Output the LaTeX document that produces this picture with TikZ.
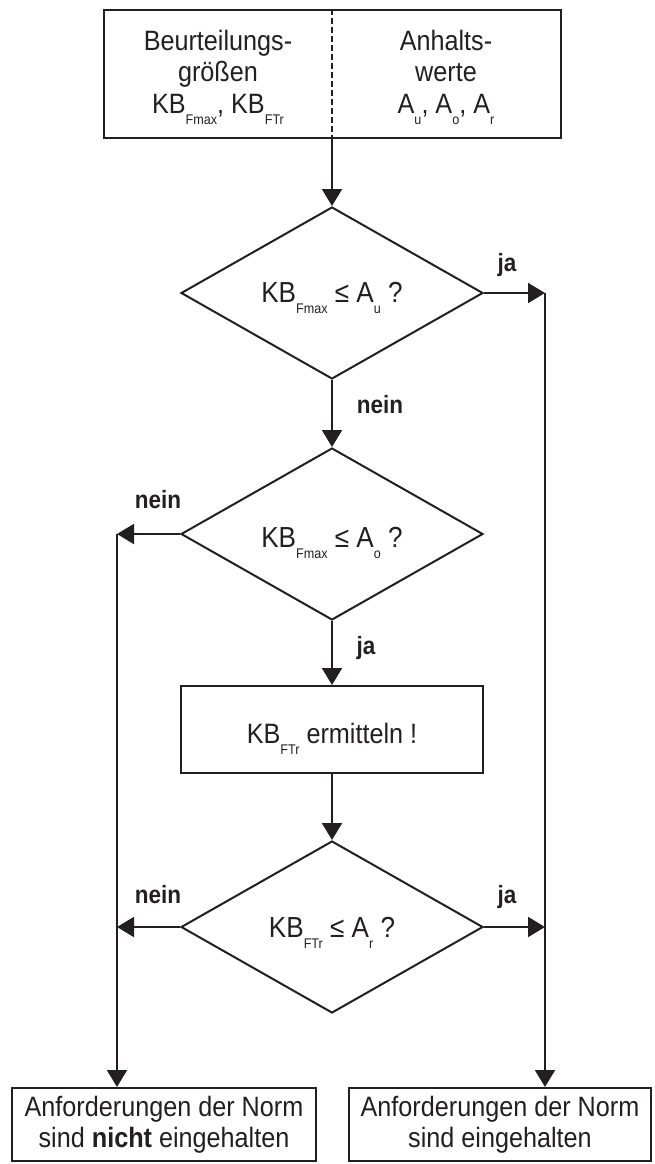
\documentclass[tikz,border=0pt]{standalone}
\usepackage{fontspec}
\setmainfont{Liberation Sans}[FakeStretch=0.9]
\usetikzlibrary{shapes.geometric,arrows.meta}
\definecolor{ink}{RGB}{35,31,32}
% small index set well below the baseline
\newcommand\lowsub[1]{\raisebox{-11pt}{\fontsize{14pt}{14pt}\selectfont #1}}
\begin{document}
\begin{tikzpicture}[x=1pt,y=-1pt,
  line/.style={draw=ink, line width=2pt},
  arr/.style={line, -{Triangle[length=17pt,width=20pt]}},
  txt/.style={inner sep=0pt, text=ink, align=center, font=\fontsize{28pt}{31.5pt}\selectfont},
  box/.style={line, rectangle, inner sep=0pt, text=ink, align=center, font=\fontsize{28pt}{31.5pt}\selectfont},
  dec/.style={line, diamond, aspect=1.756, minimum width=302pt, minimum height=172pt,
              inner sep=0pt, text=ink, font=\fontsize{29pt}{31pt}\selectfont},
  lbl/.style={anchor=base, inner sep=0pt, text=ink, font=\fontsize{25pt}{28pt}\selectfont\bfseries}]

\useasboundingbox (0,0) rectangle (654,1164);

% input block with two halves
\node[box, minimum width=457pt, minimum height=128pt] (head) at (332,74) {};
\draw[line, dash pattern=on 6pt off 3pt] (head.north) -- (head.south);
\node[txt] (qty) at (218,77) {Beurteilungs-\\größen\\KB\lowsub{Fmax}, KB\lowsub{FTr}};
\node[txt] (ref) at (446,77) {Anhalts-\\werte\\A\lowsub{u}, A\lowsub{o}, A\lowsub{r}};

% decisions and steps
\node[dec, text height=24pt, text depth=6pt] (d1) at (332,293) {KB\lowsub{Fmax} ≤ A\lowsub{u} ?};
\node[dec, text height=30pt, text depth=4pt] (d2) at (332,534) {KB\lowsub{Fmax} ≤ A\lowsub{o} ?};
\node[box, minimum width=302pt, minimum height=87pt, text height=30pt, text depth=3pt] (calc) at (332,729.5) {KB\lowsub{FTr} ermitteln !};
\node[dec, text height=24pt, text depth=4pt] (d3) at (332,927) {KB\lowsub{FTr} ≤ A\lowsub{r} ?};

% results
\node[box, minimum width=304pt, minimum height=73pt] (lbox) at (164,1124.5) {Anforderungen der Norm\\sind \textbf{nicht} eingehalten};
\node[box, minimum width=302pt, minimum height=73pt] (rbox) at (500,1124.5) {Anforderungen der Norm\\sind eingehalten};

% collector lines
\coordinate (rj) at (545,293);
\coordinate (lj) at (117,534);

% connectors
\draw[arr] (head.south) -- (d1.north);
\draw[arr] (d1.east) -- (rj);
\draw[arr] (rj) -- (rj |- rbox.north);
\draw[arr] (d1.south) -- (d2.north);
\draw[arr] (d2.west) -- (lj);
\draw[arr] (lj) -- (lj |- lbox.north);
\draw[arr] (d2.south) -- (calc.north);
\draw[arr] (calc.south) -- (d3.north);
\draw[arr] (d3.west) -- (d3.west -| lj);
\draw[arr] (d3.east) -- (d3.east -| rj);

% branch labels
\node[lbl] (ja1) at (507,271) {ja};
\node[lbl] (nein1) at (380,413) {nein};
\node[lbl] (nein2) at (158,508) {nein};
\node[lbl] (ja2) at (366,654) {ja};
\node[lbl] (nein3) at (158,903) {nein};
\node[lbl] (ja3) at (507,903) {ja};
\end{tikzpicture}
\end{document}
